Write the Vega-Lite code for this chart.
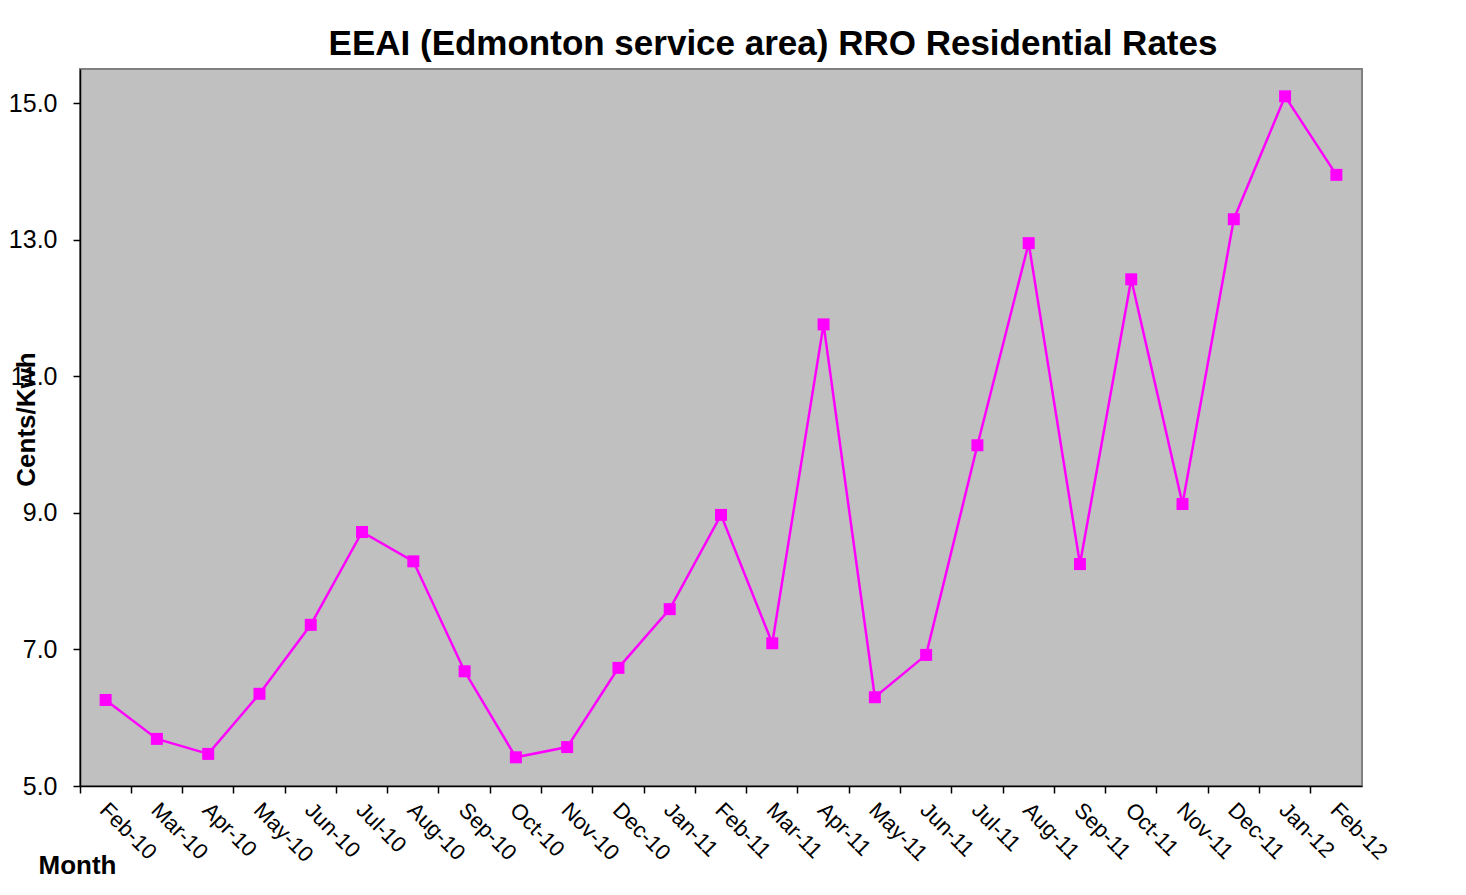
{
  "$schema": "https://vega.github.io/schema/vega-lite/v6.json",
  "autosize": {"type": "none"},
  "width": 1282,
  "height": 717,
  "padding": {"left": 80, "top": 69, "right": 104, "bottom": 109},
  "background": "white",
  "title": {
    "text": "EEAI (Edmonton service area) RRO Residential Rates",
    "font": "Liberation Sans",
    "fontSize": 35,
    "fontWeight": "bold",
    "color": "black",
    "anchor": "middle",
    "frame": "group",
    "dx": 52,
    "dy": 35,
    "baseline": "alphabetic",
    "offset": 14
  },
  "config": {
    "view": {"fill": "#C0C0C0", "stroke": "#808080", "strokeWidth": 2},
    "axis": {
      "labelFont": "Liberation Sans",
      "titleFont": "Liberation Sans",
      "labelColor": "black",
      "titleColor": "black",
      "domainColor": "black",
      "tickColor": "black",
      "domainWidth": 1.5,
      "tickWidth": 1.5,
      "grid": false
    }
  },
  "data": {
    "values": [
      {"month": "Feb-10", "rate": 6.26},
      {"month": "Mar-10", "rate": 5.69},
      {"month": "Apr-10", "rate": 5.47},
      {"month": "May-10", "rate": 6.35},
      {"month": "Jun-10", "rate": 7.36},
      {"month": "Jul-10", "rate": 8.72},
      {"month": "Aug-10", "rate": 8.29},
      {"month": "Sep-10", "rate": 6.68},
      {"month": "Oct-10", "rate": 5.42},
      {"month": "Nov-10", "rate": 5.57},
      {"month": "Dec-10", "rate": 6.73},
      {"month": "Jan-11", "rate": 7.59},
      {"month": "Feb-11", "rate": 8.97},
      {"month": "Mar-11", "rate": 7.09},
      {"month": "Apr-11", "rate": 11.76},
      {"month": "May-11", "rate": 6.30},
      {"month": "Jun-11", "rate": 6.92},
      {"month": "Jul-11", "rate": 9.99},
      {"month": "Aug-11", "rate": 12.95},
      {"month": "Sep-11", "rate": 8.25},
      {"month": "Oct-11", "rate": 12.42},
      {"month": "Nov-11", "rate": 9.13},
      {"month": "Dec-11", "rate": 13.30},
      {"month": "Jan-12", "rate": 15.10},
      {"month": "Feb-12", "rate": 13.95}
    ]
  },
  "encoding": {
    "x": {
      "field": "month",
      "type": "ordinal",
      "sort": null,
      "scale": {"type": "band", "paddingInner": 0, "paddingOuter": 0},
      "axis": {
        "title": "Month",
        "titleFontSize": 26,
        "titleFontWeight": "bold",
        "titleAnchor": "start",
        "titleAlign": "center",
        "titleX": -3,
        "titleY": 87,
        "titleBaseline": "alphabetic",
        "labelAngle": 45,
        "labelAlign": "left",
        "labelBaseline": "top",
        "labelFontSize": 22,
        "labelPadding": 6,
        "labelOffset": 5,
        "tickSize": 7,
        "bandPosition": 0
      }
    },
    "y": {
      "field": "rate",
      "type": "quantitative",
      "scale": {"domain": [5, 15.5], "nice": false, "zero": false},
      "axis": {
        "title": "Cents/Kwh",
        "titleFontSize": 26,
        "titleFontWeight": "bold",
        "titleAngle": -90,
        "titleAlign": "center",
        "titleBaseline": "alphabetic",
        "titleX": -46,
        "titleY": 350,
        "values": [5, 7, 9, 11, 13, 15],
        "format": ".1f",
        "labelFontSize": 25,
        "labelPadding": 16,
        "tickSize": 7
      }
    }
  },
  "layer": [
    {"mark": {"type": "line", "color": "#FF00FF", "strokeWidth": 2.5}},
    {"mark": {"type": "point", "shape": "square", "filled": true, "color": "#FF00FF", "opacity": 1, "size": 144}}
  ]
}
